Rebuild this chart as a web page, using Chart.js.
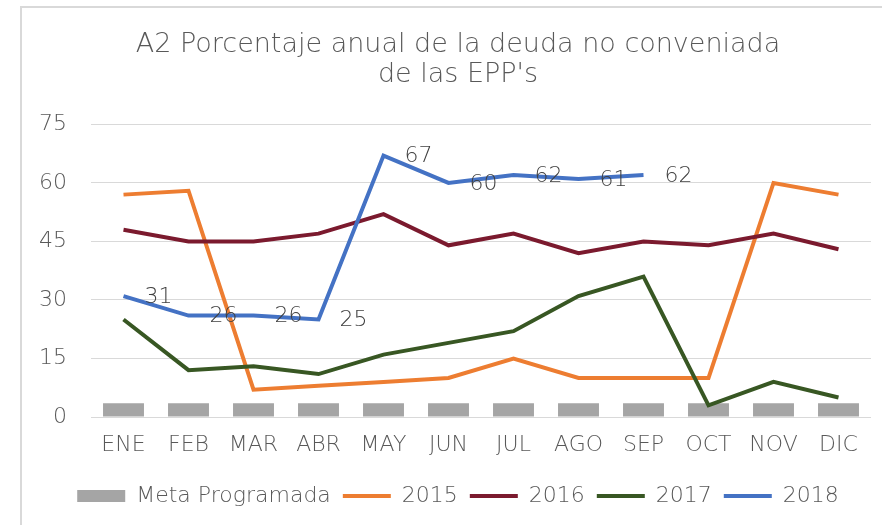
<!DOCTYPE html>
<html>
<head>
<meta charset="utf-8">
<script src="https://cdn.jsdelivr.net/npm/chart.js@4"></script>
<style>
    html, body { margin: 0; padding: 0; background: #fff; }
    #wrap { position: relative; width: 882px; height: 525px; }
</style>
</head>
<body>
<div id="wrap"><canvas id="deudaChart" width="882" height="525"></canvas></div>
<script>
// Data
const months = ['ENE', 'FEB', 'MAR', 'ABR', 'MAY', 'JUN', 'JUL', 'AGO', 'SEP', 'OCT', 'NOV', 'DIC'];
const meta = [3.5, 3.5, 3.5, 3.5, 3.5, 3.5, 3.5, 3.5, 3.5, 3.5, 3.5, 3.5];
const serie2015 = [57, 58, 7, 8, 9, 10, 15, 10, 10, 10, 60, 57];
const serie2016 = [48, 45, 45, 47, 52, 44, 47, 42, 45, 44, 47, 43];
const serie2017 = [25, 12, 13, 11, 16, 19, 22, 31, 36, 3, 9, 5];
const serie2018 = [31, 26, 26, 25, 67, 60, 62, 61, 62];
const yTicks = [0, 15, 30, 45, 60, 75];

const FONT = '"DejaVu Sans", sans-serif';
const WEIGHT = '200';

// Light frame around the chart
const framePlugin = {
    id: 'frame',
    beforeDraw(chart) {
        const ctx = chart.ctx;
        ctx.save();
        ctx.strokeStyle = '#d9d9d9';
        ctx.lineWidth = 2;
        ctx.beginPath();
        ctx.moveTo(21, chart.height);
        ctx.lineTo(21, 7);
        ctx.lineTo(chart.width, 7);
        ctx.stroke();
        ctx.restore();
    }
};

// Value labels for the 2018 line, placed to the right of each point
const labelPlugin = {
    id: 'labels2018',
    afterDatasetsDraw(chart) {
        const ctx = chart.ctx;
        const idx = chart.data.datasets.findIndex(d => d.label === '2018');
        const meta = chart.getDatasetMeta(idx);
        ctx.save();
        ctx.font = WEIGHT + ' 22px ' + FONT;
        ctx.fillStyle = '#404040';
        ctx.textAlign = 'center';
        ctx.textBaseline = 'middle';
        meta.data.forEach((pt, i) => {
            ctx.fillText(serie2018[i], pt.x + 35, pt.y + 1);
        });
        ctx.restore();
    }
};

function lineSet(label, data, color, order) {
    return {
        type: 'line',
        label: label,
        data: data,
        borderColor: color,
        backgroundColor: color,
        borderWidth: 4,
        pointRadius: 0,
        tension: 0,
        order: order
    };
}

const ctx = document.getElementById('deudaChart').getContext('2d');
const chart = new Chart(ctx, {
    type: 'bar',
    data: {
        labels: months,
        datasets: [
            {
                type: 'bar',
                label: 'Meta Programada',
                data: meta,
                backgroundColor: '#a5a5a5',
                borderWidth: 0,
                barPercentage: 0.63,
                categoryPercentage: 1,
                order: 5
            },
            lineSet('2015', serie2015, '#ed7d31', 4),
            lineSet('2016', serie2016, '#7b1a2e', 3),
            lineSet('2017', serie2017, '#385723', 2),
            lineSet('2018', serie2018, '#4472c4', 1)
        ]
    },
    options: {
        responsive: false,
        animation: false,
        layout: { padding: { left: 35, right: 1, top: 30, bottom: 8 } },
        plugins: {
            tooltip: { enabled: false },
            title: {
                display: true,
                text: ['A2 Porcentaje anual de la deuda no conveniada', "de las EPP's"],
                color: '#595959',
                font: { family: FONT, size: 27, weight: WEIGHT, lineHeight: 1.1 },
                padding: { top: 0, bottom: 35 }
            },
            legend: {
                display: true,
                position: 'bottom',
                labels: {
                    usePointStyle: true,
                    pointStyleWidth: 48,
                    boxHeight: 12,
                    padding: 12,
                    color: '#595959',
                    font: { family: FONT, size: 22, weight: WEIGHT },
                    sort: (a, b) => a.datasetIndex - b.datasetIndex,
                    generateLabels(chart) {
                        const items = Chart.defaults.plugins.legend.labels.generateLabels(chart);
                        items.forEach(item => {
                            const ds = chart.data.datasets[item.datasetIndex];
                            if (ds.type === 'bar') {
                                item.pointStyle = 'rect';
                                item.lineWidth = 0;
                            } else {
                                item.pointStyle = 'line';
                                item.lineWidth = 4;
                                item.strokeStyle = ds.borderColor;
                            }
                        });
                        return items;
                    }
                }
            }
        },
        scales: {
            x: {
                grid: { display: false, drawTicks: false },
                border: { display: false },
                ticks: { color: '#595959', font: { family: FONT, size: 22, weight: WEIGHT }, padding: 15 },
                afterFit: s => { s.height = 56; }
            },
            y: {
                min: 0,
                max: 75,
                afterBuildTicks: s => { s.ticks = yTicks.map(v => ({ value: v })); },
                grid: { color: '#d9d9d9', lineWidth: 1, drawTicks: false },
                border: { display: false },
                ticks: { color: '#595959', font: { family: FONT, size: 22, weight: WEIGHT }, padding: 24 },
                afterFit: s => { s.width = 56; }
            },
            // empty spacer on the right so the plot ends where the reference does
            spacer: {
                position: 'right',
                display: true,
                grid: { display: false, drawTicks: false },
                border: { display: false },
                ticks: { display: false },
                afterFit: s => { s.width = 10; }
            }
        }
    },
    plugins: [framePlugin, labelPlugin]
});
</script>
</body>
</html>
